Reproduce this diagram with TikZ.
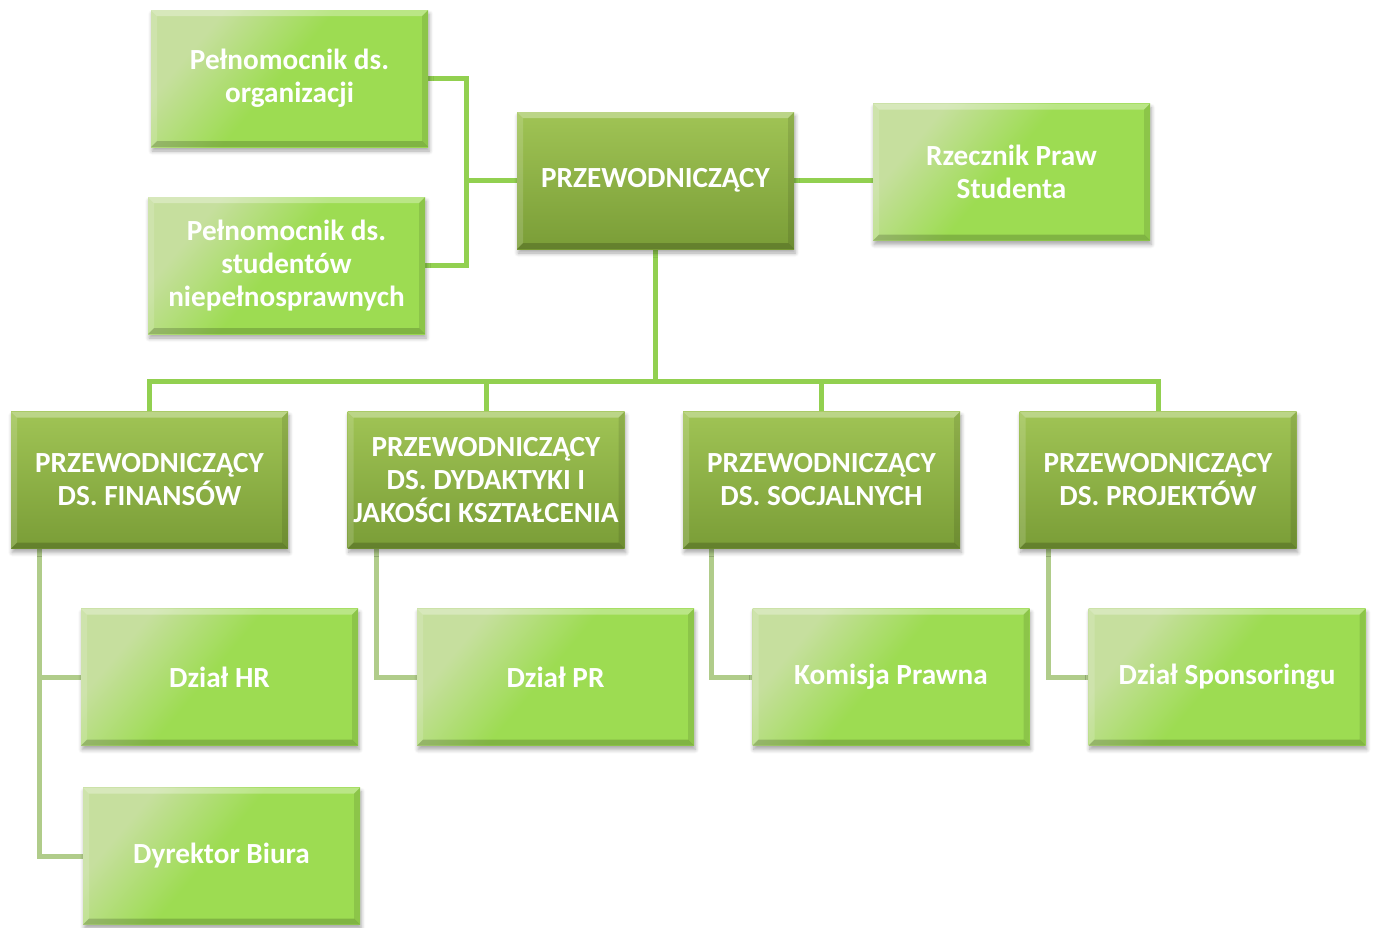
\documentclass[tikz,border=0pt]{standalone}
\usepackage{fontspec}
\setmainfont{Carlito}
\usetikzlibrary{calc,backgrounds,shadows.blur}
\definecolor{lgA}{HTML}{C6DF9E}
\definecolor{lgB}{HTML}{9DDC52}
\definecolor{dgA}{HTML}{A0C455}
\definecolor{dgB}{HTML}{7A9D37}
\definecolor{lineA}{HTML}{92D050}
\definecolor{lineB}{HTML}{B0CC8A}
\pgfdeclarehorizontalshading{lightgreen}{100bp}{color(0bp)=(lgA); color(28bp)=(lgA); color(48bp)=(lgB); color(100bp)=(lgB)}
\tikzset{
  bevel/.style={path picture={
    \fill[white,opacity=.30] (path picture bounding box.north west) -- (path picture bounding box.north east) -- ([xshift=-3pt,yshift=-3pt]path picture bounding box.north east) -- ([xshift=3pt,yshift=-3pt]path picture bounding box.north west) -- cycle;
    \fill[white,opacity=.15] (path picture bounding box.north west) -- ([xshift=3pt,yshift=-3pt]path picture bounding box.north west) -- ([xshift=3pt,yshift=3pt]path picture bounding box.south west) -- (path picture bounding box.south west) -- cycle;
    \fill[black,opacity=.18] (path picture bounding box.south west) -- (path picture bounding box.south east) -- ([xshift=-3pt,yshift=3pt]path picture bounding box.south east) -- ([xshift=3pt,yshift=3pt]path picture bounding box.south west) -- cycle;
    \fill[black,opacity=.10] (path picture bounding box.north east) -- ([xshift=-3pt,yshift=-3pt]path picture bounding box.north east) -- ([xshift=-3pt,yshift=3pt]path picture bounding box.south east) -- (path picture bounding box.south east) -- cycle;
  }},
  boxbase/.style={minimum width=138.5pt, minimum height=68.5pt, inner sep=1pt,
    align=center, text=white, font=\fontsize{14.6pt}{16.5pt}\selectfont\bfseries,
    blur shadow={shadow xshift=0.6pt, shadow yshift=-2pt, shadow opacity=35, shadow blur steps=6, shadow blur radius=2pt},
    bevel},
  lbox/.style={boxbase, shading=lightgreen, shading angle=-40},
  dbox/.style={boxbase, shading=axis, top color=dgA, bottom color=dgB},
  topline/.style={draw=lineA, line width=2.5pt},
  lowline/.style={draw=lineB, line width=2.5pt},
}
\begin{document}
\begin{tikzpicture}[x=0.5pt,y=-0.5pt]
\useasboundingbox (0,0) rectangle (1375,927);
% top cluster
\node[lbox] (org) at (289.5,78.5) {Pełnomocnik ds.\\organizacji};
\node[lbox] (stud) at (286.5,265.5) {Pełnomocnik ds.\\studentów\\niepełnosprawnych};
\node[dbox] (prz) at (655.5,180.5) {PRZEWODNICZĄCY};
\node[lbox] (rz) at (1011.5,172) {Rzecznik Praw\\Studenta};
% row 2
\node[dbox] (fin) at (149.5,480) {PRZEWODNICZĄCY\\DS. FINANSÓW};
\node[dbox] (dyd) at (486,480) {PRZEWODNICZĄCY\\DS. DYDAKTYKI I\\JAKOŚCI KSZTAŁCENIA};
\node[dbox] (soc) at (821.5,480) {PRZEWODNICZĄCY\\DS. SOCJALNYCH};
\node[dbox] (proj) at (1158,480) {PRZEWODNICZĄCY\\DS. PROJEKTÓW};
% row 3
\node[lbox] (hr) at (219.5,677) {Dział HR};
\node[lbox] (pr) at (555.5,677) {Dział PR};
\node[lbox] (kom) at (891,677) {Komisja Prawna};
\node[lbox] (spon) at (1227,677) {Dział Sponsoringu};
\node[lbox] (dyr) at (221.5,856) {Dyrektor Biura};
\begin{scope}[on background layer]
\coordinate (spine) at (466,0);
\coordinate (bus) at (0,381);
\coordinate (finx) at ($(fin.south west)+(29,0)$);
\coordinate (dydx) at ($(dyd.south west)+(29,0)$);
\coordinate (socx) at ($(soc.south west)+(29,0)$);
\coordinate (projx) at ($(proj.south west)+(29,0)$);
\draw[topline] (org.east) -| (spine |- stud.east) -- (stud.east);
\draw[topline] (prz.west) -- (spine |- prz.west);
\draw[topline] (prz.east) -- (prz.east -| rz.west);
\draw[topline] (prz.south) -- (prz.south |- bus);
\draw[topline,line cap=rect] (fin.north) -- (fin.north |- bus) -- (proj.north |- bus) -- (proj.north);
\draw[topline] (dyd.north) -- (dyd.north |- bus);
\draw[topline] (soc.north) -- (soc.north |- bus);
\draw[lowline] (finx) |- (dyr.west);
\draw[lowline] (finx |- hr.west) -- (hr.west);
\draw[lowline] (dydx) |- (pr.west);
\draw[lowline] (socx) |- (kom.west);
\draw[lowline] (projx) |- (spon.west);
\end{scope}
\end{tikzpicture}
\end{document}
